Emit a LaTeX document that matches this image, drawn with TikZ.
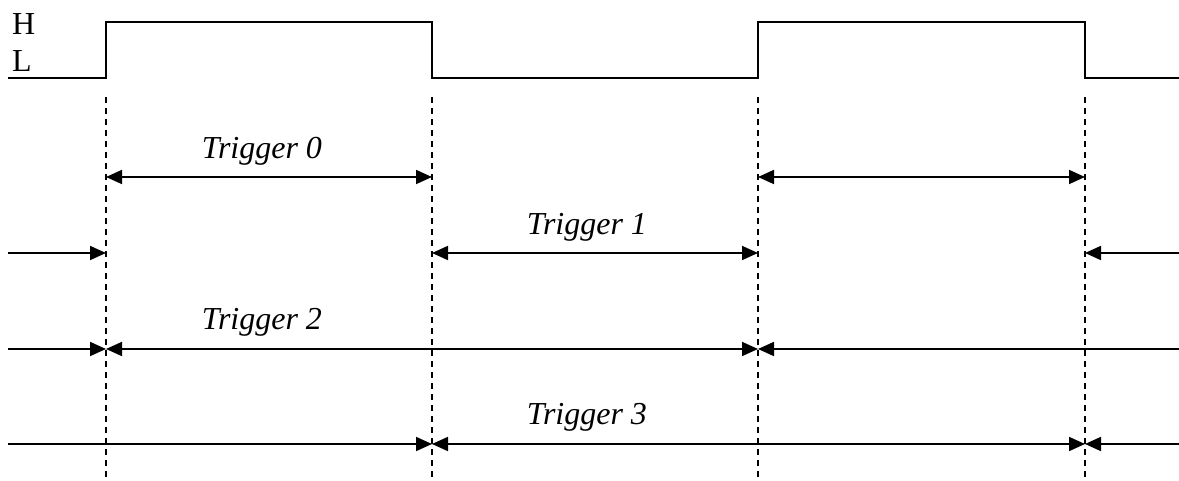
\documentclass[tikz,border=0pt]{standalone}
\usepackage{fontspec}
\setmainfont{Liberation Serif}
\usetikzlibrary{arrows.meta}
\begin{document}
\begin{tikzpicture}[x=1pt,y=-1pt,
  wave/.style={line width=2pt},
  guide/.style={line width=1.5pt,dash pattern=on 6pt off 5pt},
  span/.style={line width=1.8pt},
  tip/.tip={Triangle[length=16pt,width=14pt]},
  both/.style={span,tip-tip},
  toright/.style={span,-tip},
  toleft/.style={span,tip-},
  lab/.style={font=\fontsize{32}{38}\selectfont\itshape,inner sep=0pt,anchor=base},
  lvl/.style={font=\fontsize{32}{38}\selectfont,inner sep=0pt,anchor=base west}]
\useasboundingbox (0,0) rectangle (1179,481);

% edge positions of the signal
\def\xa{106}\def\xb{432}\def\xc{758}\def\xd{1085}

% level labels
\node[lvl] (hi) at (12,35) {H};
\node[lvl] (lo) at (12,72) {L};

% square wave
\draw[wave] (8,78) -- (\xa,78) -- (\xa,22) -- (\xb,22) -- (\xb,78)
  -- (\xc,78) -- (\xc,22) -- (\xd,22) -- (\xd,78) -- (1179,78);

% dashed guides at each edge
\foreach \x/\n in {\xa/ga,\xb/gb,\xc/gc,\xd/gd}{
  \coordinate (\n top) at (\x,97);
  \coordinate (\n bot) at (\x,481);
  \draw[guide] (\n top) -- (\n bot);
}

% row coordinates
\foreach \r/\y in {1/177,2/253,3/349,4/444}{
  \coordinate (L\r) at (8,\y);
  \coordinate (A\r) at (\xa,\y);
  \coordinate (B\r) at (\xb,\y);
  \coordinate (C\r) at (\xc,\y);
  \coordinate (D\r) at (\xd,\y);
  \coordinate (R\r) at (1179,\y);
}

% Trigger 0
\draw[both] (A1) -- (B1);
\draw[both] (C1) -- (D1);
\node[lab] (t0) at (262,159) {Trigger 0};

% Trigger 1
\draw[toright] (L2) -- (A2);
\draw[both] (B2) -- (C2);
\draw[toleft] (D2) -- (R2);
\node[lab] (t1) at (587,235) {Trigger 1};

% Trigger 2
\draw[toright] (L3) -- (A3);
\draw[both] (A3) -- (C3);
\draw[toleft] (C3) -- (R3);
\node[lab] (t2) at (262,330) {Trigger 2};

% Trigger 3
\draw[toright] (L4) -- (B4);
\draw[both] (B4) -- (D4);
\draw[toleft] (D4) -- (R4);
\node[lab] (t3) at (587,424) {Trigger 3};
\end{tikzpicture}
\end{document}
